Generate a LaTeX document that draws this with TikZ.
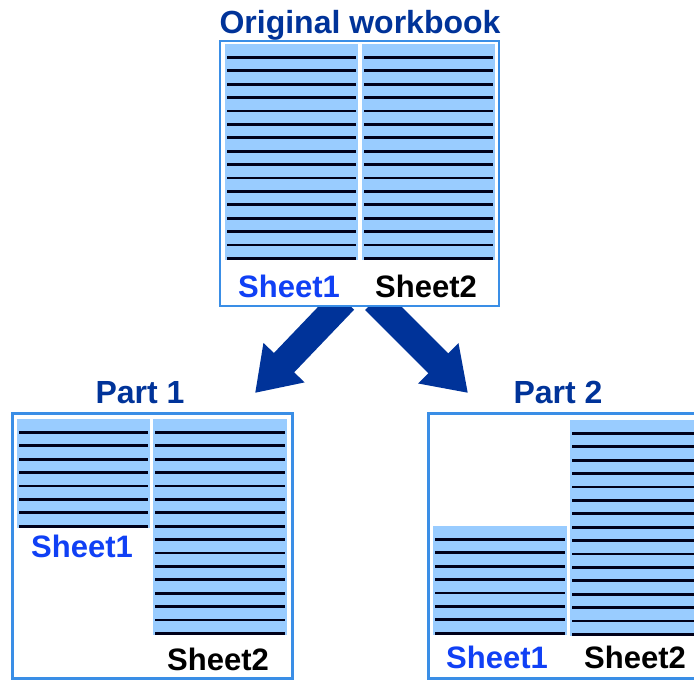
\documentclass[tikz,border=0pt]{standalone}
\usepackage{fontspec}
\setmainfont{Liberation Sans}
\usetikzlibrary{arrows.meta}
\definecolor{navy}{HTML}{003399}
\definecolor{sheetblue}{HTML}{1040F5}
\definecolor{frameblue}{HTML}{3A8EE6}
\definecolor{rowblue}{HTML}{99CCFF}
\tikzset{
  bookbox/.style={draw=frameblue,line width=1.2pt,fill=white,inner sep=0pt,
    minimum width=140pt,minimum height=132.5pt},
  sheetfill/.style={fill=rowblue},
  rowline/.style={draw=black!90!blue,line width=1.4pt},
  caption/.style={font=\fontsize{16}{19}\selectfont\bfseries,text=navy,anchor=base,inner sep=0pt},
  tab/.style={font=\fontsize{15.5}{18}\selectfont\bfseries,anchor=base,inner sep=0pt},
  splitarrow/.style={draw=navy,line width=14pt,-{Triangle[length=21pt,width=27pt]}}
}
% one sheet: x, y, width, number of rows
\newcommand{\sheetblock}[4]{%
  \fill[sheetfill] (#1,#2) rectangle ++(#3,{#4*13.4+2});
  \foreach \k in {1,...,#4}
    \draw[rowline] ({#1+2},{#2+13.4*\k}) -- ++({#3-4},0);
}
\begin{document}
\begin{tikzpicture}[x=0.5pt,y=-0.5pt]
\useasboundingbox (0,0) rectangle (694,680);
\clip (0,0) rectangle (694,680);
% arrows behind the workbook
\coordinate (from1) at (344,300);
\coordinate (from2) at (375,300);
\coordinate (to1) at (255,393);
\coordinate (to2) at (468,393);
\draw[splitarrow] (from1)--(to1);
\draw[splitarrow] (from2)--(to2);

% original workbook
\node[bookbox,minimum width=139.5pt] (orig) at (359.5,173.5) {};
\sheetblock{225}{44}{133}{16}
\sheetblock{362}{44}{133}{16}
\node[caption] (origtitle) at (360,33) {Original workbook};
\node[tab,text=sheetblue] (origA) at (289,297) {Sheet1};
\node[tab] (origB) at (426,297) {Sheet2};

% part 1
\node[bookbox] (partA) at (152.5,546) {};
\sheetblock{17}{419}{133}{8}
\sheetblock{153}{419}{134}{16}
\node[caption] (partAtitle) at (140,403) {Part 1};
\node[tab,text=sheetblue] (partAone) at (82,557) {Sheet1};
\node[tab] (partAtwo) at (218,670) {Sheet2};

% part 2
\node[bookbox] (partB) at (568.5,546) {};
\sheetblock{433}{526}{134}{8}
\sheetblock{570}{420}{134}{16}
\node[caption] (partBtitle) at (558,403) {Part 2};
\node[tab,text=sheetblue] (partBone) at (497,668) {Sheet1};
\node[tab] (partBtwo) at (635,668) {Sheet2};

\end{tikzpicture}
\end{document}
